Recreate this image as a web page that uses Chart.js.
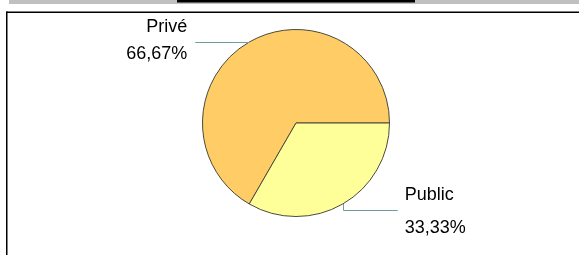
<!DOCTYPE html>
<html>
<head>
<meta charset="utf-8">
<script src="https://cdn.jsdelivr.net/npm/chart.js@4"></script>
<style>
  html, body { margin: 0; padding: 0; background: #fff; }
  #wrap { width: 579px; height: 255px; }
</style>
</head>
<body>
<div id="wrap"><canvas id="pieChart" width="579" height="255"></canvas></div>
<script>
const sectors = ["Privé", "Public"];
const shares = [66.67, 33.33];
const sectorColors = ["#FFCC66", "#FFFF99"];

// frame, top band and the leader-line labels
const decorPlugin = {
  id: "decor",
  beforeDraw(chart) {
    const c = chart.ctx;
    c.save();
    c.fillStyle = "#c0c0c0";
    c.fillRect(9, 0, 570, 4);
    c.fillStyle = "#000";
    c.fillRect(177, 0, 238, 2.5);
    c.fillRect(6, 11.5, 573, 1.5);
    c.fillRect(6, 11.5, 1.5, 244);
    c.restore();
  },
  afterDraw(chart) {
    const c = chart.ctx;
    const arcs = chart.getDatasetMeta(0).data;
    const total = shares.reduce((a, b) => a + b, 0);
    c.save();
    c.font = "18px 'Liberation Sans', Arial, sans-serif";
    c.fillStyle = "#000";
    c.strokeStyle = "#6f9e9a";
    c.lineWidth = 1;
    arcs.forEach((arc, i) => {
      const mid = (arc.startAngle + arc.endAngle) / 2;
      const px = arc.x + arc.outerRadius * Math.cos(mid);
      const py = arc.y + arc.outerRadius * Math.sin(mid);
      const pct = (shares[i] / total * 100).toFixed(2).replace(".", ",") + "%";
      c.beginPath();
      if (Math.cos(mid) < 0) {
        c.moveTo(px, Math.round(py) + 0.5);
        c.lineTo(px - 54, Math.round(py) + 0.5);
        c.stroke();
        c.textAlign = "right";
        c.fillText(sectors[i], px - 62, py - 10);
        c.fillText(pct, px - 62, py + 17);
      } else {
        const x = Math.round(px) + 0.5;
        c.moveTo(x, py);
        c.lineTo(x, Math.round(py) + 6.5);
        c.lineTo(px + 55, Math.round(py) + 6.5);
        c.stroke();
        c.textAlign = "left";
        c.fillText(sectors[i], px + 62, py - 4);
        c.fillText(pct, px + 62, py + 29);
      }
    });
    c.restore();
  }
};

new Chart(document.getElementById("pieChart"), {
  type: "pie",
  data: {
    labels: sectors,
    datasets: [{
      data: shares,
      backgroundColor: sectorColors,
      borderColor: "#4a4a3a",
      borderWidth: 1
    }]
  },
  options: {
    responsive: false,
    animation: false,
    rotation: 210,
    layout: { padding: { left: 202, right: 189, top: 29, bottom: 38 } },
    plugins: {
      legend: { display: false },
      tooltip: { enabled: false }
    }
  },
  plugins: [decorPlugin]
});
</script>
</body>
</html>
